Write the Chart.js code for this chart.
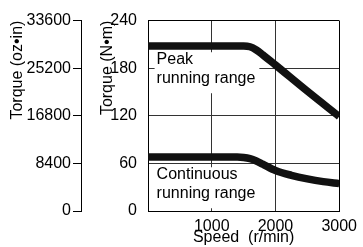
<!DOCTYPE html>
<html>
<head>
<meta charset="utf-8">
<script src="https://cdn.jsdelivr.net/npm/chart.js@4"></script>
<style>
  html, body { margin: 0; padding: 0; background: #fff; }
  #wrap { position: relative; width: 363px; height: 247px; }
</style>
</head>
<body>
<div id="wrap"><canvas id="chart"></canvas></div>
<script>
const speedTicks = [0, 1000, 2000, 3000];
const torqueTicksNm = [0, 60, 120, 180, 240];
const torqueTicksOz = [0, 8400, 16800, 25200, 33600];

// peak running range (N·m)
const peakSpeed  = [0, 1500, 1600, 1700, 1800, 2000, 2500, 3000];
const peakTorque = [208, 208, 207, 203, 197, 184, 151, 119];

// continuous running range (N·m)
const contSpeed  = [0, 1400, 1500, 1600, 1700, 1800, 2000, 2250, 2500, 2750, 3000];
const contTorque = [68, 68, 67.5, 66, 63, 59, 51, 45, 40.5, 37, 34.5];

const rangeLabels = [
    { lines: ['Peak', 'running range'], speed: 135, torque: 185 },
    { lines: ['Continuous', 'running range'], speed: 135, torque: 40 }
];

const FONT = '"Liberation Sans", Arial, sans-serif';
const font = { family: FONT, size: 16 };

// white boxes with text over the grid
const rangeLabelPlugin = {
    id: 'rangeLabels',
    beforeDatasetsDraw(chart) {
        const { ctx, scales } = chart;
        ctx.save();
        ctx.font = '16px ' + FONT;
        ctx.textBaseline = 'alphabetic';
        rangeLabels.forEach(lbl => {
            const px = scales.x.getPixelForValue(lbl.speed);
            const py = scales.y.getPixelForValue(lbl.torque);
            const w = Math.max(...lbl.lines.map(t => ctx.measureText(t).width));
            const lineH = 19;
            ctx.fillStyle = '#fff';
            ctx.fillRect(px - 2, py - 12, w + 6, lineH * (lbl.lines.length - 1) + 22);
            ctx.fillStyle = '#000';
            lbl.lines.forEach((t, i) => ctx.fillText(t, px, py + i * lineH));
        });
        ctx.restore();
    }
};

const toPoints = (xs, ys) => xs.map((v, i) => ({ x: v, y: ys[i] }));

new Chart(document.getElementById('chart'), {
    type: 'line',
    data: {
        datasets: [{
            label: 'Peak',
            data: toPoints(peakSpeed, peakTorque),
            yAxisID: 'y',
            borderColor: '#111',
            borderWidth: 7.5,
            pointRadius: 0,
            cubicInterpolationMode: 'monotone',
            clip: 0
        }, {
            label: 'Continuous',
            data: toPoints(contSpeed, contTorque),
            yAxisID: 'y',
            borderColor: '#111',
            borderWidth: 7.5,
            pointRadius: 0,
            cubicInterpolationMode: 'monotone',
            clip: 0
        }]
    },
    options: {
        responsive: true,
        maintainAspectRatio: false,
        animation: false,
        devicePixelRatio: 1,
        layout: { padding: { top: 14, right: 18, left: 0, bottom: 0 } },
        plugins: {
            legend: { display: false },
            tooltip: { enabled: false }
        },
        scales: {
            x: {
                type: 'linear',
                min: 0,
                max: 3000,
                afterBuildTicks: s => { s.ticks = speedTicks.map(v => ({ value: v })); },
                afterFit: s => { s.height = 36; },
                grid: {
                    color: c => (c.tick && c.tick.value === 3000 ? '#000' : '#333'),
                    drawTicks: false,
                    lineWidth: 1
                },
                border: { color: '#000', width: 1 },
                ticks: {
                    padding: 6,
                    maxRotation: 0,
                    color: '#000',
                    font: font,
                    callback: v => (v === 0 ? '' : String(v))
                },
                title: {
                    display: true,
                    text: 'Speed  (r/min)',
                    color: '#000',
                    font: font,
                    padding: { top: 0, bottom: 0 }
                }
            },
            y: {
                position: 'left',
                weight: 0,
                min: 0,
                max: 240,
                afterBuildTicks: s => { s.ticks = torqueTicksNm.map(v => ({ value: v })); },
                afterFit: s => { s.width = 67; },
                grid: {
                    color: c => (c.tick && c.tick.value === 240 ? '#000' : '#333'),
                    drawTicks: false,
                    lineWidth: 1
                },
                border: { color: '#000', width: 1 },
                ticks: {
                    padding: 11,
                    color: '#000',
                    font: font,
                    callback: v => String(v)
                },
                title: {
                    display: true,
                    text: 'Torque (N•m)',
                    align: 'end',
                    color: '#000',
                    font: font,
                    padding: { top: 17, bottom: 0 }
                }
            },
            y2: {
                position: 'left',
                weight: 1,
                min: 0,
                max: 33600,
                afterBuildTicks: s => { s.ticks = torqueTicksOz.map(v => ({ value: v })); },
                afterFit: s => { s.width = 81; },
                grid: {
                    drawOnChartArea: false,
                    drawTicks: true,
                    tickLength: 8,
                    color: '#000',
                    lineWidth: 1
                },
                border: { color: '#000', width: 1 },
                ticks: {
                    padding: 2,
                    color: '#000',
                    font: font,
                    callback: v => String(v)
                },
                title: {
                    display: true,
                    text: 'Torque (oz•in)',
                    align: 'end',
                    color: '#000',
                    font: font,
                    padding: { top: 8, bottom: 0 }
                }
            }
        }
    },
    plugins: [rangeLabelPlugin]
});
</script>
</body>
</html>
